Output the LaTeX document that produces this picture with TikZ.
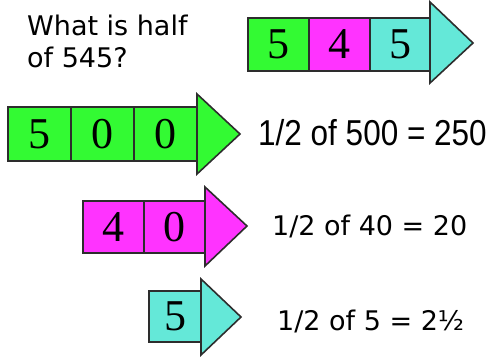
\documentclass[tikz,border=0pt]{standalone}
\usepackage{fontspec}
\usepackage{graphicx}
\setmainfont{DejaVu Sans}
\newfontfamily\digfont{Liberation Serif}
\newfontfamily\arialfont{Liberation Sans}
\definecolor{boxgreen}{RGB}{51,250,51}
\definecolor{boxmag}{RGB}{255,51,255}
\definecolor{boxcyan}{RGB}{100,232,216}
\definecolor{boxline}{RGB}{45,45,45}
\begin{document}
\begin{tikzpicture}[x=1pt,y=-1pt,
  digbox/.style={draw=boxline, line width=2pt, inner sep=0pt, outer sep=0pt,
    font=\digfont\fontsize{44}{44}\selectfont},
  tri/.style={draw=boxline, line width=1.6pt, line join=miter},
  label/.style={inner sep=0pt, anchor=base west, font=\fontsize{27}{32}\selectfont}]
\useasboundingbox (0,0) rectangle (493,357);

% question
\node[label, align=left] (q) at (27,67) {What is half\\of 545?};

% row 1 : 545
\draw[tri, fill=boxcyan] (430,2) -- (473,43) -- (430,83) -- cycle;
\node[digbox, fill=boxgreen, minimum width=61pt, minimum height=53pt] (a1) at (278.5,44.5) {5};
\node[digbox, fill=boxmag, minimum width=61pt, minimum height=53pt] (a2) at (339.5,44.5) {4};
\node[digbox, fill=boxcyan, minimum width=60pt, minimum height=53pt] (a3) at (400,44.5) {5};

% row 2 : 500
\draw[tri, fill=boxgreen] (197,94) -- (240,134) -- (197,174) -- cycle;
\node[digbox, fill=boxgreen, minimum width=63pt, minimum height=54pt] (b1) at (39.5,134) {5};
\node[digbox, fill=boxgreen, minimum width=63pt, minimum height=54pt] (b2) at (102.5,134) {0};
\node[digbox, fill=boxgreen, minimum width=63pt, minimum height=54pt] (b3) at (165.5,134) {0};
\node[inner sep=0pt, anchor=base west, font=\arialfont\fontsize{36}{36}\selectfont] (t1) at (258,145) {\scalebox{0.875}[1]{1/2 of 500 = 250}};

% row 3 : 40
\draw[tri, fill=boxmag] (205,187) -- (247,226) -- (205,266) -- cycle;
\node[digbox, fill=boxmag, minimum width=61pt, minimum height=52pt] (c1) at (113.5,227) {4};
\node[digbox, fill=boxmag, minimum width=61pt, minimum height=52pt] (c2) at (174.5,227) {0};
\node[label] (t2) at (272,235) {1/2 of 40 = 20};

% row 4 : 5
\draw[tri, fill=boxcyan] (201,279) -- (241,317) -- (201,355) -- cycle;
\node[digbox, fill=boxcyan, minimum width=52pt, minimum height=51pt] (d1) at (175,316.5) {5};
\node[label] (t3) at (277,330) {1/2 of 5 = 2½};
\end{tikzpicture}
\end{document}
